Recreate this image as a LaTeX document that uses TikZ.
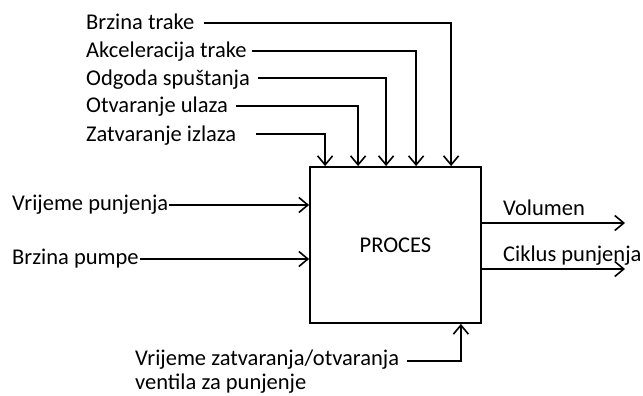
\documentclass[tikz,border=0pt]{standalone}
\usepackage{fontspec}
\setmainfont{Carlito}
\usetikzlibrary{arrows.meta}
\begin{document}
\begin{tikzpicture}[x=1pt,y=-1pt,
  lbl/.style={inner sep=0pt,anchor=base west,font=\fontsize{22.5}{23}\selectfont},
  arr/.style={line width=1.8pt,-{Straight Barb[length=9pt,width=15pt,line width=1.6pt]}},
  box/.style={draw,line width=1.8pt,minimum width=171pt,minimum height=156pt,inner sep=0pt,font=\fontsize{22.5}{23}\selectfont}]
\useasboundingbox (0,0) rectangle (643,396);
\node[box] (proc) at (395.5,245) {PROCES};
% top labels
\node[lbl] (t1) at (86,30) {Brzina trake};
\node[lbl] (t2) at (86,58) {Akceleracija trake};
\node[lbl] (t3) at (86,85) {Odgoda spuštanja};
\node[lbl] (t4) at (86,113) {Otvaranje ulaza};
\node[lbl] (t5) at (86,141) {Zatvaranje izlaza};
\draw[arr] ([xshift=9pt,yshift=7pt]t1.base east) -| ([xshift=142pt]proc.north west);
\draw[arr] ([xshift=5pt,yshift=7pt]t2.base east) -| ([xshift=107pt]proc.north west);
\draw[arr] ([xshift=8pt,yshift=7pt]t3.base east) -| ([xshift=77pt]proc.north west);
\draw[arr] ([xshift=8pt,yshift=7pt]t4.base east) -| ([xshift=49pt]proc.north west);
\draw[arr] ([xshift=20pt,yshift=7pt]t5.base east) -| ([xshift=16pt]proc.north west);
% left labels
\node[lbl] (l1) at (12,210) {Vrijeme punjenja};
\node[lbl] (l2) at (12,264) {Brzina pumpe};
\draw[arr] ([xshift=1pt,yshift=5pt]l1.base east) -- ([yshift=5pt]l1.base east -| proc.west);
\draw[arr] ([xshift=1pt,yshift=5pt]l2.base east) -- ([yshift=5pt]l2.base east -| proc.west);
% right outputs
\coordinate (o1) at (625,223);
\coordinate (o2) at (625,269);
\node[lbl] (r1) at (503,215) {Volumen};
\node[lbl] (r2) at (503,261) {Ciklus punjenja};
\draw[arr] (o1 -| proc.east) -- (o1);
\draw[arr] (o2 -| proc.east) -- (o2);
% bottom
\node[lbl] (b1) at (135,365) {Vrijeme zatvaranja/otvaranja};
\node[lbl] (b2) at (135,389) {ventila za punjenje};
\draw[arr] ([xshift=8pt,yshift=4pt]b1.base east) -| ([xshift=-21pt]proc.south east);
\end{tikzpicture}
\end{document}
